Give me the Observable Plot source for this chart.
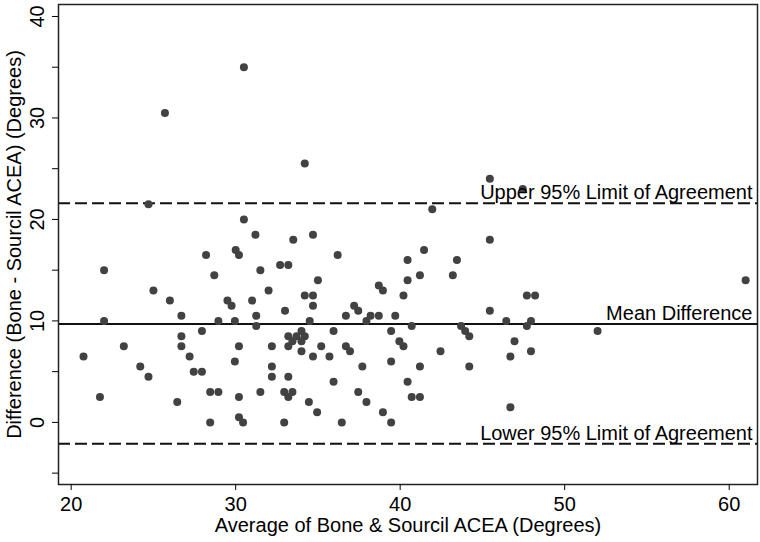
<!DOCTYPE html>
<html><head><meta charset="utf-8">
<script src="https://cdn.jsdelivr.net/npm/d3@7"></script>
<script src="https://cdn.jsdelivr.net/npm/@observablehq/plot@0.6"></script>
<style>
html,body{margin:0;padding:0;background:#fff;}
#chart svg{display:block;}
</style></head><body><div id="chart"></div>
<script>
// Bland-Altman data: average of the two measures (x) and their difference (y)
const average = [
  30.5, 25.7, 34.2, 24.7, 30.5, 31.2, 33.5, 34.7, 28.2, 30.0,
  30.2, 36.2, 32.7, 33.2, 40.45, 22.0, 31.5, 45.45, 47.45, 41.95,
  45.45, 41.45, 43.45, 41.2, 43.2, 40.45, 28.7, 25.0, 35.0, 32.0,
  38.7, 38.95, 40.2, 26.0, 29.5, 29.75, 31.0, 34.2, 34.7, 34.7,
  33.0, 37.2, 37.45, 26.7, 31.25, 36.7, 38.2, 38.7, 39.7, 22.0,
  28.95, 29.95, 34.5, 37.95, 31.25, 27.95, 35.95, 39.45, 40.7, 26.7,
  33.2, 33.7, 34.0, 34.2, 33.45, 34.0, 39.95, 40.2, 23.2, 26.7,
  30.2, 32.2, 33.2, 35.2, 36.7, 36.95, 34.0, 20.75, 27.2, 34.7,
  35.7, 29.95, 39.45, 24.2, 32.2, 37.7, 27.45, 27.95, 24.7, 32.2,
  33.2, 40.45, 35.95, 28.45, 28.95, 31.5, 32.95, 33.45, 33.2, 37.45,
  21.75, 30.2, 40.7, 26.45, 34.45, 37.95, 34.95, 38.95, 30.2, 30.45,
  28.45, 32.95, 36.45, 39.45, 47.7, 48.2, 45.45, 46.45, 47.95, 47.7,
  43.7, 43.95, 44.2, 46.95, 42.45, 47.95, 46.7, 41.2, 44.2, 41.2,
  46.7, 61.0, 52.0
];
const difference = [
  35, 30.5, 25.5, 21.5, 20, 18.5, 18, 18.5, 16.5, 17,
  16.5, 16.5, 15.5, 15.5, 16, 15, 15, 24, 23, 21,
  18, 17, 16, 14.5, 14.5, 14, 14.5, 13, 14, 13,
  13.5, 13, 12.5, 12, 12, 11.5, 12, 12.5, 12.5, 11.5,
  11, 11.5, 11, 10.5, 10.5, 10.5, 10.5, 10.5, 10.5, 10,
  10, 10, 10, 10, 9.5, 9, 9, 9, 9.5, 8.5,
  8.5, 8.5, 9, 8.5, 8, 8, 8, 7.5, 7.5, 7.5,
  7.5, 7.5, 7.5, 7.5, 7.5, 7, 7, 6.5, 6.5, 6.5,
  6.5, 6, 6, 5.5, 5.5, 5.5, 5, 5, 4.5, 4.5,
  4.5, 4, 4, 3, 3, 3, 3, 3, 2.5, 3,
  2.5, 2.5, 2.5, 2, 2, 2, 1, 1, 0.5, 0,
  0, 0, 0, 0, 12.5, 12.5, 11, 10, 10, 9.5,
  9.5, 9, 8.5, 8, 7, 7, 6.5, 5.5, 5.5, 2.5,
  1.5, 14, 9
];
const meanDifference = 9.7;
const upperLimit = 21.6;
const lowerLimit = -2.1;
const refValues = [upperLimit, meanDifference, lowerLimit];
const refLabels = ["Upper 95% Limit of Agreement", "Mean Difference", "Lower 95% Limit of Agreement"];
const xTicks = [20, 30, 40, 50, 60];
const yTicks = [0, 10, 20, 30, 40];
const yMinorTicks = [-5, 5, 15, 25, 35];
const xTitle = "Average of Bone & Sourcil ACEA (Degrees)";
const yTitle = "Difference (Bone - Sourcil ACEA) (Degrees)";

const points = average.map((a, i) => ({avg: a, diff: difference[i]}));
const refs = refValues.map((v, i) => ({y: v, label: refLabels[i]}));

const font = "'Liberation Sans', Arial, Helvetica, sans-serif";
const chart = Plot.plot({
  width: 760,
  height: 542,
  marginLeft: 58,
  marginRight: 3,
  marginTop: 4,
  marginBottom: 58,
  style: {fontFamily: font, fontSize: "20px", color: "#000", background: "#fff"},
  x: {domain: [19.23, 61.72]},
  y: {domain: [-6.12, 41.18]},
  marks: [
    Plot.ruleY([meanDifference], {stroke: "#111", strokeWidth: 2}),
    Plot.ruleY([upperLimit, lowerLimit], {stroke: "#111", strokeWidth: 2, strokeDasharray: "12,5"}),
    Plot.dot(points, {x: "avg", y: "diff", r: 4, fill: "#424242", stroke: null}),
    Plot.text(refs, {y: "y", text: "label", frameAnchor: "right", textAnchor: "end", lineAnchor: "bottom", dx: -5, dy: -4, fontSize: 20, fill: "#000"}),
    Plot.frame({stroke: "#222", strokeWidth: 1.5}),
    Plot.axisX(xTicks, {tickSize: 6, tickPadding: 6, fontSize: 20, label: xTitle, labelAnchor: "center", labelArrow: "none", labelOffset: 47}),
    Plot.axisY(yTicks, {tickSize: 6, tickPadding: 9, tickRotate: -90, fontSize: 20, label: yTitle, labelAnchor: "center", labelArrow: "none", labelOffset: 52}),
    Plot.axisY(yMinorTicks, {tickSize: 6, tickFormat: () => "", label: null})
  ]
});
document.getElementById("chart").appendChild(chart);
</script>
</body></html>
